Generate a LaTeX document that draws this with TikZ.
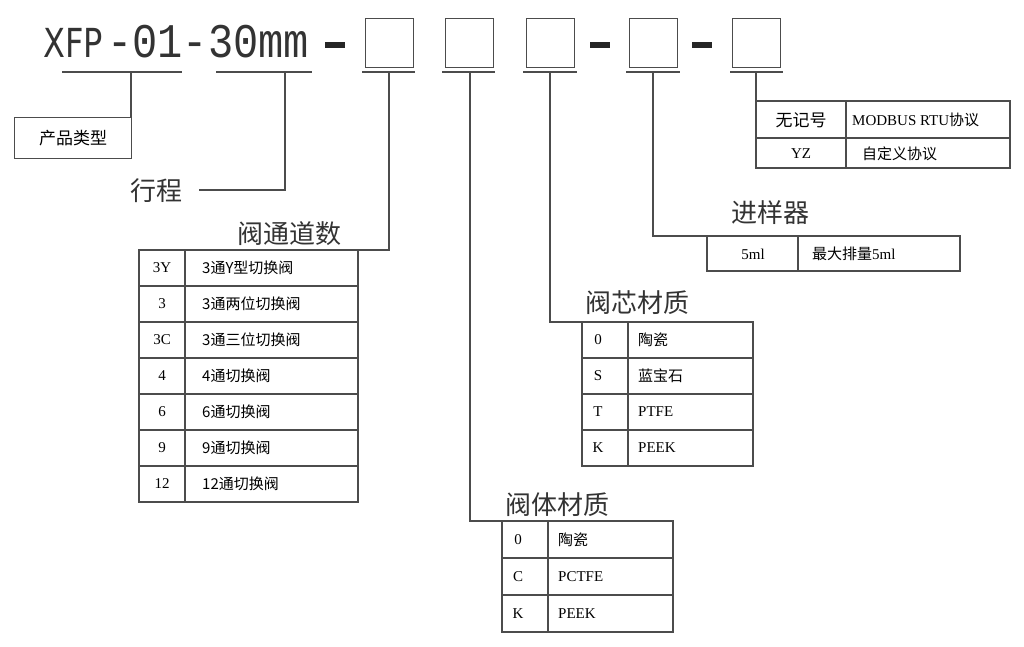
\documentclass[tikz,border=0pt]{standalone}
\usepackage{fontspec}
\setmainfont{Liberation Serif}
\newfontfamily\cjk{Noto Sans CJK SC}
\newfontfamily\sansf{DejaVu Sans}
\newfontfamily\monof{Liberation Mono}
\begin{document}
\begin{tikzpicture}[x=1pt,y=-1pt,
  ln/.style={draw=black!70,line width=1.2pt},
  cell/.style={font=\fontsize{15}{15}\selectfont,anchor=center,inner sep=0},
  ttl/.style={font=\cjk\fontsize{26}{26}\selectfont,anchor=base west,inner sep=0,text=black!80},
  codebox/.style={draw=black!70,line width=1.2pt,minimum width=48pt,minimum height=49pt,inner sep=0,anchor=north west}]
\useasboundingbox (0,0) rectangle (1024,647);
% title
\node[anchor=base west,inner sep=0,text=black!80] (title) at (43,58) {\scalebox{0.8}[1]{\sansf\fontsize{40}{40}\selectfont XFP}};
\node[anchor=base west,inner sep=0,text=black!80] (title2) at (107,58) {\scalebox{1}[1.15]{\monof\fontsize{42}{42}\selectfont -01-30mm}};
\foreach \x/\n in {365/b1,445/b2,526/b3,629/b4,732/b5} \node[codebox] (\n) at (\x,18) {};
\foreach \x in {325,590,692} \fill[black!85] (\x,42) rectangle (\x+20,48);
\foreach \a/\b in {62/182,216/312,362/415,442/495,523/577,626/680,730/783} \draw[ln] (\a,72)--(\b,72);
% product type
\node[draw=black!70,line width=1.2pt,minimum width=117pt,minimum height=41pt,anchor=north west,inner sep=0,font=\cjk\fontsize{17}{17}\selectfont] (pt) at (14,117) {产品类型};
\coordinate (ptc) at (131,117);
\draw[ln] (131,72)--(ptc);
% stroke
\node[ttl] (xc) at (130,200) {行程};
\coordinate (xcE) at (199,190);
\draw[ln] (285,72)--(285,190)--(xcE);
% table 1
\node[ttl] (t1) at (237,243) {阀通道数};
\coordinate (t1a) at (389,250);
\draw[ln] (389,72)--(t1a)--(139,250);
\foreach \i/\a/\b [count=\k from 0] in {3Y/3通Y型切换阀,3/3通两位切换阀,3C/3通三位切换阀,4/4通切换阀,6/6通切换阀,9/9通切换阀,12/12通切换阀}{
  \draw[ln] (139,250+36*\k) rectangle (185,286+36*\k);
  \draw[ln] (185,250+36*\k) rectangle (358,286+36*\k);
  \node[cell] (t1l\k) at (162,268+36*\k) {\i};
  \node[cell,anchor=west] (t1r\k) at (202,268+36*\k) {\cjk\fontsize{15}{15}\selectfont\a};
}
% table 2 body material
\node[ttl] (t2) at (505,514) {阀体材质};
\draw[ln] (470,72)--(470,521)--(502,521);
\foreach \i/\a [count=\k from 0] in {0/{\cjk 陶瓷},C/PCTFE,K/PEEK}{
  \draw[ln] (502,521+37*\k) rectangle (548,558+37*\k);
  \draw[ln] (548,521+37*\k) rectangle (673,558+37*\k);
  \node[cell] (t2l\k) at (518,540+37*\k) {\i};
  \node[cell,anchor=west] (t2r\k) at (558,540+37*\k) {\a};
}
% table 3 core material
\node[ttl] (t3) at (585,312) {阀芯材质};
\draw[ln] (550,72)--(550,322)--(582,322);
\foreach \i/\a [count=\k from 0] in {0/{\cjk 陶瓷},S/{\cjk 蓝宝石},T/PTFE,K/PEEK}{
  \draw[ln] (582,322+36*\k) rectangle (628,358+36*\k);
  \draw[ln] (628,322+36*\k) rectangle (753,358+36*\k);
  \node[cell] (t3l\k) at (598,340+36*\k) {\i};
  \node[cell,anchor=west] (t3r\k) at (638,340+36*\k) {\a};
}
% table 4 sampler
\node[ttl] (t4) at (731,222) {进样器};
\draw[ln] (653,72)--(653,236)--(707,236);
\draw[ln] (707,236) rectangle (798,271);
\draw[ln] (798,236) rectangle (960,271);
\node[cell] (t4l) at (753,254) {5ml};
\node[cell,anchor=west] (t4r) at (812,254) {\cjk\fontsize{15}{15}\selectfont 最大排量\rmfamily 5ml};
% table 5 protocol
\draw[ln] (756,72)--(756,101);
\draw[ln] (756,101) rectangle (846,138);
\draw[ln] (846,101) rectangle (1010,138);
\draw[ln] (756,138) rectangle (846,168);
\draw[ln] (846,138) rectangle (1010,168);
\node[cell] (t5a) at (801,120) {\cjk\fontsize{17}{17}\selectfont 无记号};
\node[cell,anchor=west] (t5b) at (852,120) {MODBUS RTU\cjk 协议};
\node[cell] (t5c) at (801,154) {YZ};
\node[cell,anchor=west] (t5d) at (862,154) {\cjk\fontsize{15}{15}\selectfont 自定义协议};
\end{tikzpicture}
\end{document}
